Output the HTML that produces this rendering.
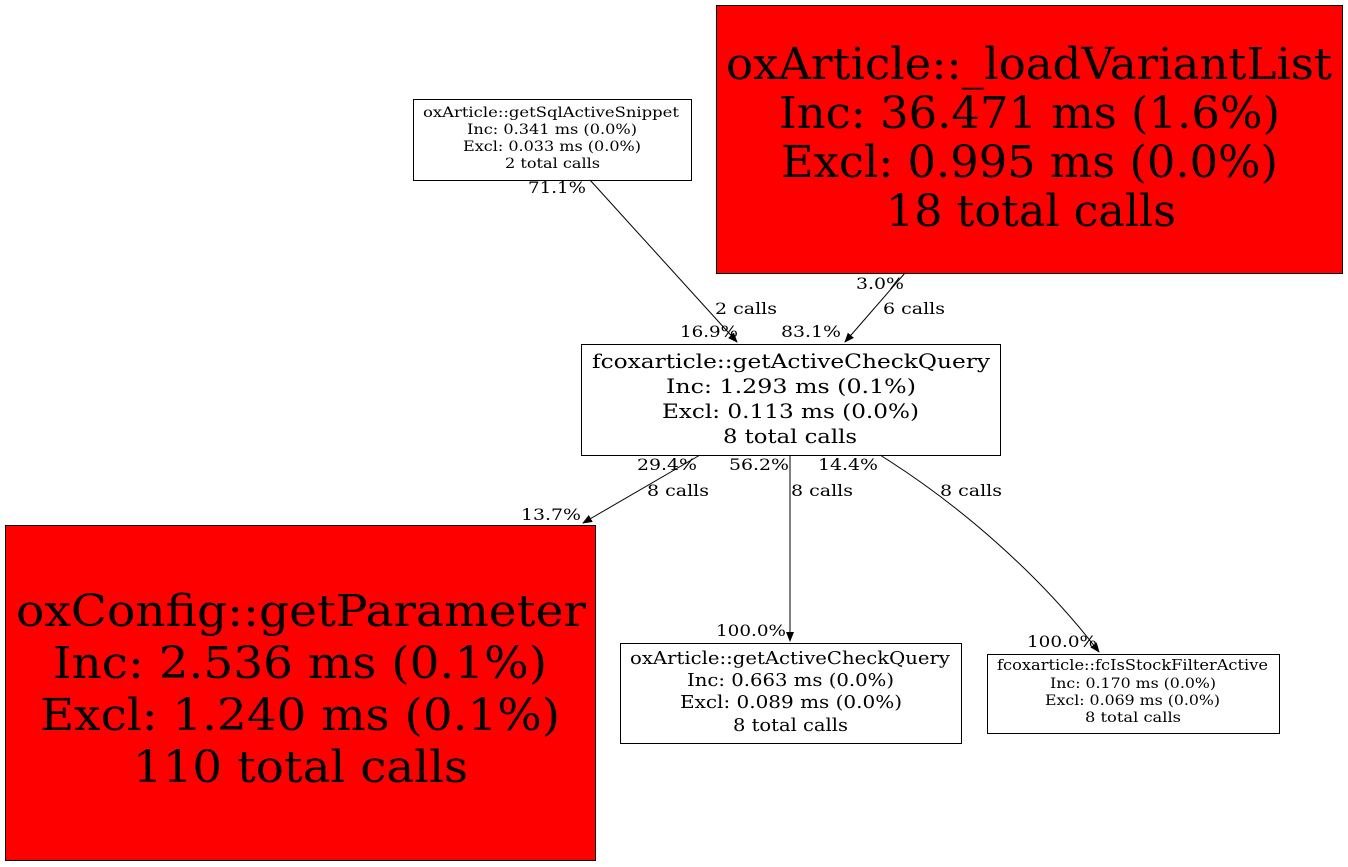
<!DOCTYPE html>
<html><head><meta charset="utf-8"><style>html,body{margin:0;padding:0;background:#fff}svg{display:block}text{font-family:"DejaVu Serif","Liberation Serif",serif;fill:#000}</style></head>
<body>
<svg width="1348" height="867" viewBox="0 0 1348 867" xmlns="http://www.w3.org/2000/svg">
<defs><marker id="a" markerWidth="10" markerHeight="8" refX="9" refY="4" orient="auto" markerUnits="userSpaceOnUse"><path d="M0,0 L10,4 L0,8z" fill="#000"/></marker></defs>
<g fill="none" stroke="#000" stroke-width="1">
<rect x="413.5" y="99.5" width="278" height="81" fill="#fff"/>
<rect x="716.5" y="5.5" width="626" height="268" fill="#f00"/>
<rect x="581.5" y="344.5" width="419" height="111" fill="#fff"/>
<rect x="5.5" y="525.5" width="590" height="335" fill="#f00"/>
<rect x="620.5" y="643.5" width="341" height="100" fill="#fff"/>
<rect x="987.5" y="654.5" width="292" height="79" fill="#fff"/>
<path d="M590,180 L737,342" marker-end="url(#a)"/>
<path d="M905,273 L845,342" marker-end="url(#a)"/>
<path d="M700,455 L583,523" marker-end="url(#a)"/>
<path d="M790,455 L790,641" marker-end="url(#a)"/>
<path d="M880,455 C960,505 1040,575 1099,652" marker-end="url(#a)"/>
</g>
<g lengthAdjust="spacingAndGlyphs">
<text font-size="14" x="423" y="117" textLength="256" lengthAdjust="spacingAndGlyphs">oxArticle::getSqlActiveSnippet</text>
<text font-size="14" x="467" y="134" textLength="170" lengthAdjust="spacingAndGlyphs">Inc: 0.341 ms (0.0%)</text>
<text font-size="14" x="463" y="151" textLength="178" lengthAdjust="spacingAndGlyphs">Excl: 0.033 ms (0.0%)</text>
<text font-size="14" x="505" y="168" textLength="95" lengthAdjust="spacingAndGlyphs">2 total calls</text>
<text font-size="44" x="726" y="79" textLength="606" lengthAdjust="spacingAndGlyphs">oxArticle::_loadVariantList</text>
<text font-size="44" x="779" y="128" textLength="501" lengthAdjust="spacingAndGlyphs">Inc: 36.471 ms (1.6%)</text>
<text font-size="44" x="781" y="177" textLength="497" lengthAdjust="spacingAndGlyphs">Excl: 0.995 ms (0.0%)</text>
<text font-size="44" x="886" y="226" textLength="290" lengthAdjust="spacingAndGlyphs">18 total calls</text>
<text font-size="20" x="592" y="368" textLength="398" lengthAdjust="spacingAndGlyphs">fcoxarticle::getActiveCheckQuery</text>
<text font-size="20" x="666" y="393" textLength="250" lengthAdjust="spacingAndGlyphs">Inc: 1.293 ms (0.1%)</text>
<text font-size="20" x="662" y="418" textLength="257" lengthAdjust="spacingAndGlyphs">Excl: 0.113 ms (0.0%)</text>
<text font-size="20" x="723" y="443" textLength="134" lengthAdjust="spacingAndGlyphs">8 total calls</text>
<text font-size="44" x="16" y="626" textLength="570" lengthAdjust="spacingAndGlyphs">oxConfig::getParameter</text>
<text font-size="44" x="53" y="678" textLength="494" lengthAdjust="spacingAndGlyphs">Inc: 2.536 ms (0.1%)</text>
<text font-size="44" x="40" y="730" textLength="520" lengthAdjust="spacingAndGlyphs">Excl: 1.240 ms (0.1%)</text>
<text font-size="44" x="133" y="782" textLength="335" lengthAdjust="spacingAndGlyphs">110 total calls</text>
<text font-size="18" x="630" y="664" textLength="320" lengthAdjust="spacingAndGlyphs">oxArticle::getActiveCheckQuery</text>
<text font-size="18" x="687" y="686" textLength="207" lengthAdjust="spacingAndGlyphs">Inc: 0.663 ms (0.0%)</text>
<text font-size="18" x="680" y="708" textLength="222" lengthAdjust="spacingAndGlyphs">Excl: 0.089 ms (0.0%)</text>
<text font-size="18" x="733" y="731" textLength="115" lengthAdjust="spacingAndGlyphs">8 total calls</text>
<text font-size="15" x="997" y="670" textLength="271" lengthAdjust="spacingAndGlyphs">fcoxarticle::fcIsStockFilterActive</text>
<text font-size="14" x="1050" y="688" textLength="166" lengthAdjust="spacingAndGlyphs">Inc: 0.170 ms (0.0%)</text>
<text font-size="14" x="1045" y="705" textLength="175" lengthAdjust="spacingAndGlyphs">Excl: 0.069 ms (0.0%)</text>
<text font-size="14" x="1085" y="722" textLength="96" lengthAdjust="spacingAndGlyphs">8 total calls</text>
</g>
<g font-size="16">
<text x="528" y="193" textLength="58" lengthAdjust="spacingAndGlyphs">71.1%</text>
<text x="715" y="314" textLength="62" lengthAdjust="spacingAndGlyphs">2 calls</text>
<text x="680" y="337" textLength="58" lengthAdjust="spacingAndGlyphs">16.9%</text>
<text x="781" y="337" textLength="60" lengthAdjust="spacingAndGlyphs">83.1%</text>
<text x="856" y="289" textLength="48" lengthAdjust="spacingAndGlyphs">3.0%</text>
<text x="883" y="314" textLength="62" lengthAdjust="spacingAndGlyphs">6 calls</text>
<text x="637" y="470" textLength="60" lengthAdjust="spacingAndGlyphs">29.4%</text>
<text x="647" y="496" textLength="62" lengthAdjust="spacingAndGlyphs">8 calls</text>
<text x="729" y="470" textLength="60" lengthAdjust="spacingAndGlyphs">56.2%</text>
<text x="791" y="496" textLength="62" lengthAdjust="spacingAndGlyphs">8 calls</text>
<text x="818" y="470" textLength="60" lengthAdjust="spacingAndGlyphs">14.4%</text>
<text x="940" y="496" textLength="62" lengthAdjust="spacingAndGlyphs">8 calls</text>
<text x="521" y="520" textLength="60" lengthAdjust="spacingAndGlyphs">13.7%</text>
<text x="716" y="636" textLength="70" lengthAdjust="spacingAndGlyphs">100.0%</text>
<text x="1027" y="647" textLength="70" lengthAdjust="spacingAndGlyphs">100.0%</text>
</g>
</svg>
</body></html>
